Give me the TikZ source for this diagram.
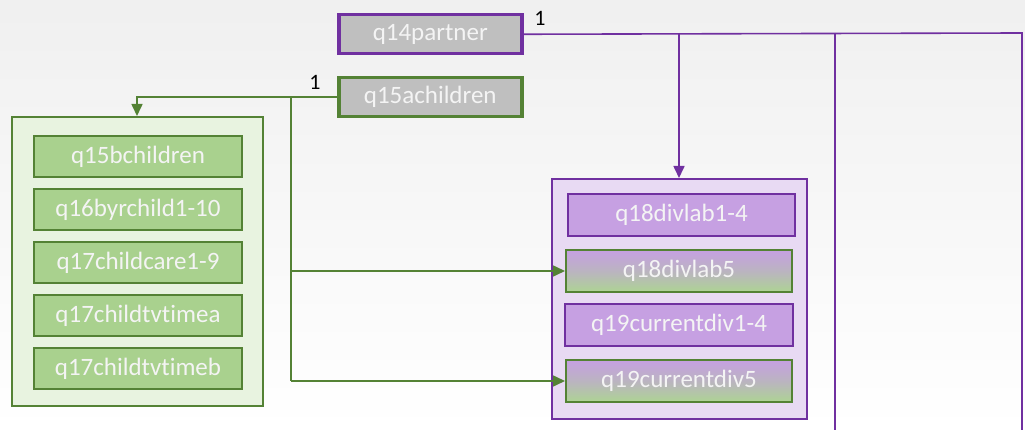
\documentclass[tikz,border=0pt]{standalone}
\usepackage{fontspec}
\setmainfont{Carlito}[RawFeature=-liga]
\usetikzlibrary{arrows.meta}
\definecolor{pur}{HTML}{7030A0}
\definecolor{grn}{HTML}{548235}
\definecolor{gfill}{HTML}{A9D18E}
\definecolor{pfill}{HTML}{C6A0E2}
\definecolor{gcont}{HTML}{E8F3E0}
\definecolor{pcont}{HTML}{E8DAF3}
\definecolor{gray1}{HTML}{BFBFBF}
\definecolor{txt}{HTML}{F4F4F4}
\tikzset{
  every node/.style={font=\fontsize{25}{28}\selectfont},
  topbox/.style={draw, line width=3.5pt, fill=gray1, text=txt, inner sep=0pt, anchor=north west},
  gbox/.style={draw=grn, line width=2pt, fill=gfill, text=txt, inner sep=0pt, anchor=north west},
  pbox/.style={draw=pur, line width=2pt, fill=pfill, text=txt, inner sep=0pt, anchor=north west},
  mbox/.style={draw=grn, line width=2pt, top color=pfill, bottom color=gfill!95!white, middle color=pfill!60!gfill, text=txt, inner sep=0pt, anchor=north west},
  cont/.style={line width=1.8pt, inner sep=0pt, anchor=north west},
  pline/.style={draw=pur, line width=1.6pt},
  gline/.style={draw=grn, line width=1.6pt},
  arr/.style={-{Triangle[length=12pt,width=11pt]}},
  lab/.style={text=black, font=\fontsize{22}{24}\selectfont}
}
\begin{document}
\begin{tikzpicture}[x=1pt,y=-1pt]
\shade[top color=black!6, bottom color=white] (0,0) rectangle (1025,430);
\useasboundingbox (0,0) rectangle (1025,430);
% containers
\node[cont, draw=grn, fill=gcont, minimum width=251pt, minimum height=289pt] (gc) at (11,116) {};
\node[cont, draw=pur, fill=pcont, minimum width=255pt, minimum height=240pt] (pc) at (551,178) {};
% top boxes
\node[topbox, draw=pur, minimum width=183pt, minimum height=39pt] (q14) at (337,13) {q14partner};
\node[topbox, draw=grn, minimum width=183pt, minimum height=39pt] (q15a) at (337,76) {q15achildren};
% green inner
\node[gbox, minimum width=208pt, minimum height=41pt] (g1) at (33,135) {q15bchildren};
\node[gbox, minimum width=208pt, minimum height=41pt] (g2) at (33,188) {q16byrchild1-10};
\node[gbox, minimum width=208pt, minimum height=41pt] (g3) at (33,241) {q17childcare1-9};
\node[gbox, minimum width=208pt, minimum height=41pt] (g4) at (33,294) {q17childtvtimea};
\node[gbox, minimum width=208pt, minimum height=41pt] (g5) at (33,347) {q17childtvtimeb};
% purple inner
\node[pbox, minimum width=227pt, minimum height=42pt] (p1) at (567,193) {q18divlab1-4};
\node[mbox, minimum width=226pt, minimum height=42pt] (p2) at (565,249) {q18divlab5};
\node[pbox, minimum width=228pt, minimum height=42pt] (p3) at (564,303) {q19currentdiv1-4};
\node[mbox, minimum width=226pt, minimum height=42pt] (p4) at (565,359) {q19currentdiv5};
% labels
\node[lab] (l1) at (540,18) {1};
\node[lab] (l2) at (315,82) {1};
% coordinates
\coordinate (r1) at (1022,33);
\coordinate (r1b) at (1022,430);
\coordinate (r2) at (835,33);
\coordinate (r2b) at (835,430);
\coordinate (r3) at (679,33);
\coordinate (gk) at (137,0);
\coordinate (jx) at (291,0);
% purple connectors
\draw[pline] (q14.east) -- (r1) -- (r1b);
\draw[pline] (r2) -- (r2b);
\draw[pline, arr] (r3) -- (r3 |- pc.north);
% green connectors
\draw[gline, arr] (q15a.west) -- (q15a.west -| gk) -- (gk |- gc.north);
\draw[gline] (q15a.west -| jx) -- (jx |- p4.west);
\draw[gline, arr] (jx |- p2.west) -- (p2.west);
\draw[gline, arr] (jx |- p4.west) -- (p4.west);
\end{tikzpicture}
\end{document}
